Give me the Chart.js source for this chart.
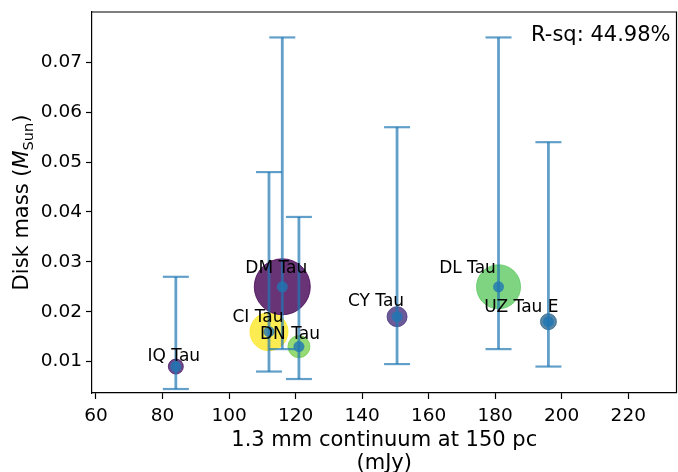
<!DOCTYPE html>
<html>
<head>
<meta charset="utf-8">
<script src="https://cdn.jsdelivr.net/npm/chart.js@4.4.0/dist/chart.umd.min.js"></script>
<style>
  html, body { margin: 0; padding: 0; background: #fff; }
</style>
</head>
<body>
<canvas id="chartDisk" width="678" height="472"></canvas>
<script>
// data
const names = ['IQ Tau', 'CI Tau', 'DM Tau', 'DN Tau', 'CY Tau', 'DL Tau', 'UZ Tau E'];
const flux = [84, 112, 116, 121, 150.5, 181, 196];          // mJy
const mass = [0.009, 0.016, 0.025, 0.013, 0.019, 0.025, 0.018];
const massLow = [0.0045, 0.008, 0.0125, 0.0065, 0.0095, 0.0125, 0.009];
const massHigh = [0.027, 0.048, 0.075, 0.039, 0.057, 0.075, 0.054];
const xTicks = [60, 80, 100, 120, 140, 160, 180, 200, 220];
const yTicks = [0.01, 0.02, 0.03, 0.04, 0.05, 0.06, 0.07];
const rSqText = 'R-sq: 44.98%';

// styling
const bubbleRadius = [7.5, 19, 28, 11, 10, 22, 8];
const bubbleColors = [
    'rgba(72,26,108,0.8)', 'rgba(253,231,37,0.8)', 'rgba(68,1,84,0.8)',
    'rgba(122,209,81,0.8)', 'rgba(70,50,126,0.8)', 'rgba(94,201,98,0.8)', 'rgba(49,104,142,0.8)'
];
const labelOffsets = [[-2, -10], [-11, -14], [-6, -18], [-9, -12], [-21, -15], [-31, -18], [-27, -14]];
const errColor = 'rgba(31,119,180,0.7)';
const FONT = '"DejaVu Sans", sans-serif';

Chart.defaults.font.family = FONT;
Chart.defaults.font.size = 18.5;
Chart.defaults.color = '#000';

const points = flux.map((x, i) => ({ x: x, y: mass[i] }));

// kill the extra room chart.js keeps for overhanging tick labels
const noPad = s => { s.paddingLeft = 0; s.paddingRight = 0; s.paddingTop = 0; s.paddingBottom = 0; };

const extras = {
    id: 'extras',
    afterDatasetDraw(chart, args) {
        if (args.index !== 1) return;
        const ctx = chart.ctx, xs = chart.scales.x, ys = chart.scales.y;
        ctx.save();
        ctx.strokeStyle = errColor;
        flux.forEach((f, i) => {
            const px = xs.getPixelForValue(f);
            const top = ys.getPixelForValue(massHigh[i]);
            const bot = ys.getPixelForValue(massLow[i]);
            ctx.lineWidth = 2.8;
            ctx.beginPath(); ctx.moveTo(px, top); ctx.lineTo(px, bot); ctx.stroke();
            ctx.lineWidth = 2.2;
            ctx.beginPath(); ctx.moveTo(px - 13, top); ctx.lineTo(px + 13, top); ctx.stroke();
            ctx.beginPath(); ctx.moveTo(px - 13, bot); ctx.lineTo(px + 13, bot); ctx.stroke();
        });
        ctx.restore();
    },
    afterDatasetsDraw(chart) {
        const ctx = chart.ctx, xs = chart.scales.x, ys = chart.scales.y;
        ctx.save();
        ctx.fillStyle = '#000';
        ctx.font = '17px ' + FONT;
        ctx.textAlign = 'center';
        ctx.textBaseline = 'middle';
        names.forEach((n, i) => {
            const px = xs.getPixelForValue(flux[i]) + labelOffsets[i][0];
            const py = ys.getPixelForValue(mass[i]) + labelOffsets[i][1];
            ctx.fillText(n, px, py);
        });
        ctx.font = '21px ' + FONT;
        ctx.textAlign = 'right';
        ctx.fillText(rSqText, chart.chartArea.right - 6, 36);
        ctx.restore();
    },
    afterDraw(chart) {
        const ctx = chart.ctx, a = chart.chartArea;
        ctx.save();
        ctx.strokeStyle = '#000';
        ctx.lineWidth = 1.2;
        ctx.beginPath();
        ctx.moveTo(a.left, a.top); ctx.lineTo(a.right, a.top); ctx.lineTo(a.right, a.bottom);
        ctx.stroke();

        // x title, two lines
        ctx.fillStyle = '#000';
        ctx.font = '21px ' + FONT;
        ctx.textAlign = 'center';
        ctx.textBaseline = 'alphabetic';
        const cx = (a.left + a.right) / 2;
        ctx.fillText('1.3 mm continuum at 150 pc', cx, 446);
        ctx.fillText('(mJy)', cx, 469);

        // y title with italic M and subscript
        const big = '21px ' + FONT, ital = 'italic 21px ' + FONT, small = '14.5px ' + FONT;
        const parts = [['Disk mass (', big, 0], ['M', ital, 0], ['Sun', small, 4.5], [')', big, 0]];
        let total = 0;
        parts.forEach(p => { ctx.font = p[1]; total += ctx.measureText(p[0]).width; });
        ctx.translate(28, (a.top + a.bottom) / 2);
        ctx.rotate(-Math.PI / 2);
        ctx.textAlign = 'left';
        let x = -total / 2;
        parts.forEach(p => {
            ctx.font = p[1];
            ctx.fillText(p[0], x, p[2]);
            x += ctx.measureText(p[0]).width;
        });
        ctx.restore();
    }
};

new Chart(document.getElementById('chartDisk'), {
    type: 'scatter',
    data: {
        datasets: [{
            label: 'centres',
            data: points,
            pointRadius: 5.5,
            pointBackgroundColor: 'rgba(31,119,180,0.8)',
            pointBorderWidth: 0
        }, {
            label: 'disks',
            data: points,
            pointRadius: bubbleRadius,
            pointBackgroundColor: bubbleColors,
            pointBorderColor: bubbleColors,
            pointBorderWidth: 1
        }]
    },
    options: {
        responsive: false,
        animation: false,
        layout: { autoPadding: false, padding: { top: 12, right: 1.5, left: 0, bottom: 0 } },
        plugins: { legend: { display: false }, tooltip: { enabled: false } },
        scales: {
            x: {
                min: 58.8, max: 234.5,
                afterFit: s => { s.height = 79; noPad(s); },
                afterBuildTicks: s => { s.ticks = xTicks.map(v => ({ value: v })); },
                border: { display: true, color: '#000', width: 1.2 },
                grid: { drawOnChartArea: false, drawTicks: true, tickLength: 6, tickColor: '#000', tickWidth: 1.2 },
                ticks: { padding: 6, maxRotation: 0, callback: v => String(v) }
            },
            y: {
                min: 0.0037, max: 0.0801,
                afterFit: s => { s.width = 92; noPad(s); },
                afterBuildTicks: s => { s.ticks = yTicks.map(v => ({ value: v })); },
                border: { display: true, color: '#000', width: 1.2 },
                grid: { drawOnChartArea: false, drawTicks: true, tickLength: 6, tickColor: '#000', tickWidth: 1.2 },
                ticks: { padding: 4, callback: v => v.toFixed(2) }
            }
        }
    },
    plugins: [extras]
});
</script>
</body>
</html>
